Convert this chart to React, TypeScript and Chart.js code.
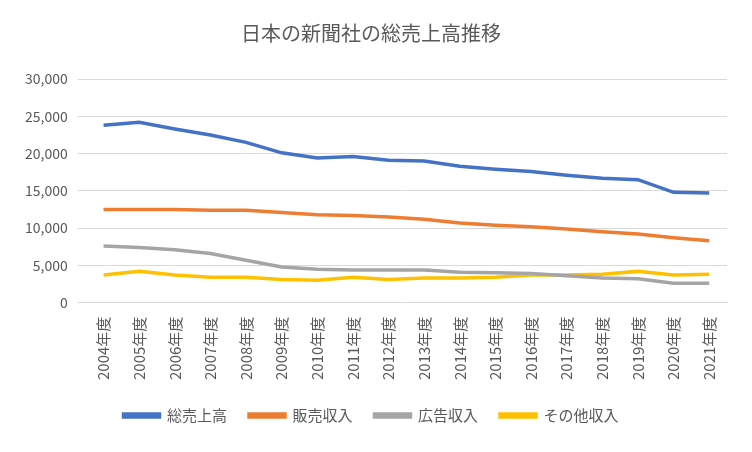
import React, { useEffect, useRef } from "react";
import { Chart, registerables } from "chart.js";
Chart.register(...registerables);

const categories = ["2004年度","2005年度","2006年度","2007年度","2008年度","2009年度","2010年度","2011年度","2012年度","2013年度","2014年度","2015年度","2016年度","2017年度","2018年度","2019年度","2020年度","2021年度"];
const total = [23800,24200,23300,22500,21500,20100,19400,19600,19100,19000,18300,17900,17600,17100,16700,16500,14800,14700];
const sales = [12500,12500,12500,12400,12400,12100,11800,11700,11500,11200,10700,10400,10200,9900,9500,9200,8700,8300];
const ads = [7600,7400,7100,6600,5700,4800,4500,4400,4400,4400,4100,4000,3900,3600,3300,3200,2600,2600];
const others = [3700,4200,3700,3400,3400,3100,3000,3400,3100,3300,3300,3400,3700,3700,3800,4200,3700,3800];
const seriesNames = ["総売上高","販売収入","広告収入","その他収入"];
const colors = ["#4472C4","#ED7D31","#A5A5A5","#FFC000"];

export default function App() {
  const ref = useRef<HTMLCanvasElement>(null);
  useEffect(() => {
    const font = "'Noto Sans CJK JP', 'Noto Sans', sans-serif";
    const data = [total, sales, ads, others];
    const chart = new Chart(ref.current!, {
      type: "line",
      data: {
        labels: categories,
        datasets: data.map((d, i) => ({
          label: seriesNames[i], data: d, borderColor: colors[i], backgroundColor: colors[i],
          borderWidth: 3.5, pointRadius: 0, tension: 0,
        })),
      },
      options: {
        animation: false, responsive: false,
        layout: { padding: { left: 14, right: 22, top: 14, bottom: 16 } },
        plugins: {
          title: { display: true, text: "日本の新聞社の総売上高推移", color: "#595959", font: { family: font, size: 20, weight: "normal" }, padding: { top: 6, bottom: 34 } },
          legend: { position: "bottom", labels: { boxWidth: 36, boxHeight: 3, color: "#595959", font: { family: font, size: 15 }, padding: 22 } },
          tooltip: { enabled: false },
        },
        scales: {
          x: { offset: true, grid: { display: false }, border: { color: "#D9D9D9" }, ticks: { color: "#595959", font: { family: font, size: 15 }, minRotation: 90, maxRotation: 90, padding: 6 } },
          y: { min: 0, max: 30000, ticks: { stepSize: 5000, color: "#595959", font: { family: font, size: 14 }, padding: 10, callback: (v: any) => Number(v).toLocaleString("en-US") }, grid: { color: "#D9D9D9" }, border: { display: false } },
        },
      },
    });
    return () => chart.destroy();
  }, []);
  return (
    <div style={{ width: 750, height: 450, border: "1px solid #D9D9D9", boxSizing: "border-box", background: "#fff", margin: -8 }}>
      <canvas ref={ref} width={748} height={448} />
    </div>
  );
}
